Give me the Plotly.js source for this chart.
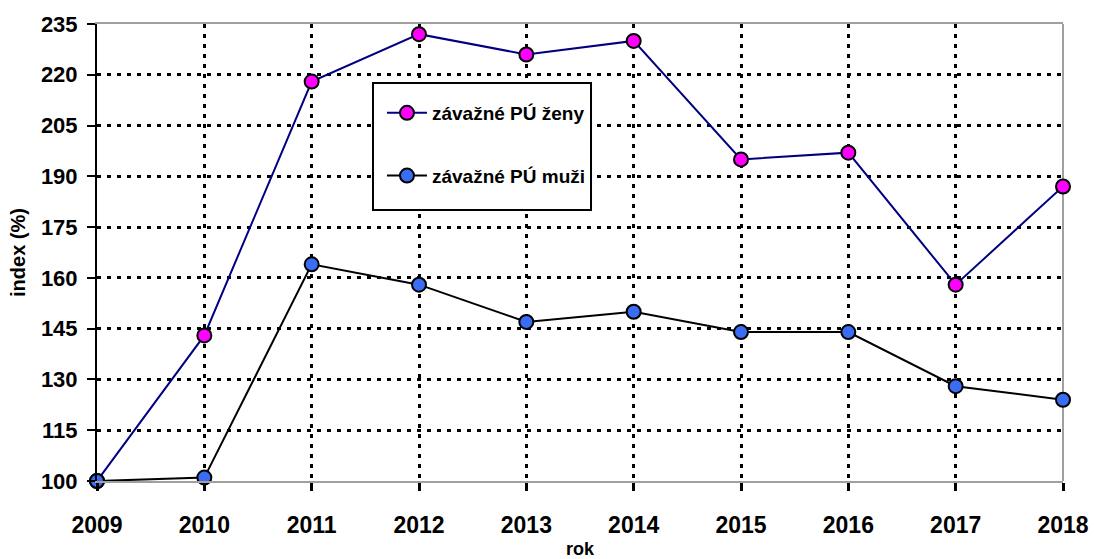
<!DOCTYPE html>
<html>
<head>
<meta charset="utf-8">
<script src="https://cdn.plot.ly/plotly-3.0.1.min.js"></script>
<style>html,body{margin:0;padding:0;background:#fff;}#chart{width:1094px;height:559px;}</style>
</head>
<body>
<div id="chart"></div>
<script>
const years = [2009, 2010, 2011, 2012, 2013, 2014, 2015, 2016, 2017, 2018];
const zeny = [100, 143, 218, 232, 226, 230, 195, 197, 158, 187];
const muzi = [100, 101, 164, 158, 147, 150, 144, 144, 128, 124];
const yTicks = [100, 115, 130, 145, 160, 175, 190, 205, 220, 235];
const seriesNames = ['závažné PÚ ženy', 'závažné PÚ muži'];

const FONT = 'Liberation Sans, Arial, sans-serif';

const traces = [
  {
    x: years, y: zeny, name: seriesNames[0], type: 'scatter', mode: 'lines+markers',
    line: {color: '#000080', width: 2},
    marker: {color: '#ff00ff', size: 14, line: {color: '#000000', width: 2}},
    cliponaxis: false, legendgroup: 'a'
  },
  {
    x: years, y: muzi, name: seriesNames[1], type: 'scatter', mode: 'lines+markers',
    line: {color: '#000000', width: 2},
    marker: {color: '#3a6cf4', size: 14, line: {color: '#000000', width: 2}},
    cliponaxis: false, legendgroup: 'b'
  }
];

const layout = {
  width: 1094, height: 559,
  margin: {l: 97, r: 31, t: 24, b: 78},
  paper_bgcolor: '#ffffff', plot_bgcolor: '#ffffff',
  font: {family: FONT, color: '#000000'},
  showlegend: true,
  legend: {
    x: 0.2950, y: 0.8468, xanchor: 'left', yanchor: 'top',
    bgcolor: 'rgba(0,0,0,0)', borderwidth: 0,
    font: {family: FONT, size: 19, color: '#000000', weight: 'bold'},
    traceorder: 'grouped', tracegroupgap: 35, itemwidth: 40
  },
  xaxis: {
    range: [2009, 2018], tickvals: years, ticktext: years.map(String),
    tickfont: {family: FONT, size: 23, weight: 'bold'},
    showgrid: true, gridcolor: '#000000', gridwidth: 3, griddash: '4px,6px',
    showline: true, linecolor: '#a0a0a0', linewidth: 2, mirror: true,
    ticks: 'outside', ticklen: 8, tickwidth: 3, tickcolor: '#000000',
    ticklabelstandoff: 14,
    zeroline: false,
    title: {text: 'rok', font: {family: FONT, size: 18, weight: 'bold'}, standoff: 17}
  },
  yaxis: {
    range: [100, 235], tickvals: yTicks, ticktext: yTicks.map(String),
    tickfont: {family: FONT, size: 22, weight: 'bold'},
    showgrid: true, gridcolor: '#000000', gridwidth: 3, griddash: '4px,6px',
    showline: true, linecolor: '#000000', linewidth: 2, mirror: false,
    ticks: 'outside', ticklen: 8, tickwidth: 2, tickcolor: '#000000',
    ticklabelstandoff: 5,
    zeroline: false,
    title: {text: 'index (%)', font: {family: FONT, size: 20, weight: 'bold'}, standoff: 10}
  },
  shapes: [
    {type: 'line', xref: 'paper', yref: 'paper', x0: 1, x1: 1, y0: 0, y1: 1,
     line: {color: '#a0a0a0', width: 2}, layer: 'below'},
    {type: 'rect', xref: 'paper', yref: 'paper', x0: 0.2857, x1: 0.5114, y0: 0.5930, y1: 0.8709,
     fillcolor: '#ffffff', line: {color: '#000000', width: 2}, layer: 'above'}
  ]
};

Plotly.newPlot('chart', traces, layout, {displayModeBar: false, staticPlot: true});
</script>
</body>
</html>
